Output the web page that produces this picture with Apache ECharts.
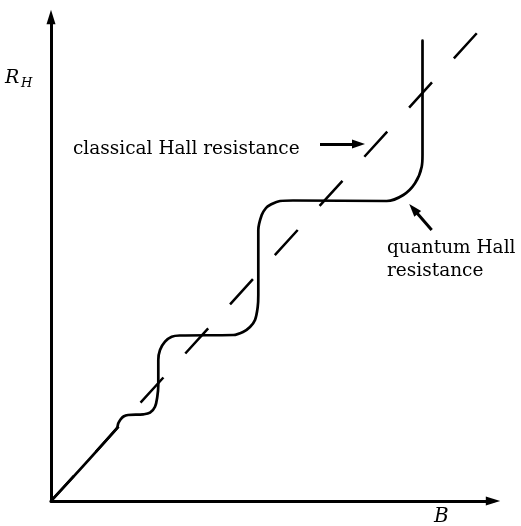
<!DOCTYPE html>
<html>
<head>
<meta charset="utf-8">
<title>Hall resistance</title>
<script src="https://cdn.jsdelivr.net/npm/echarts@6/dist/echarts.min.js"></script>
<style>
  html, body { margin: 0; padding: 0; background: #fff; }
  #chart { width: 521px; height: 526px; }
</style>
</head>
<body>
<div id="chart"></div>
<script>
// Classical Hall resistance: straight line through the origin (B, R_H)
const classicalB = [0, 426];
const classicalR = [0, 468];

// Quantum Hall resistance: plateaus joined by steep rises
const quantumB = [0, 65.7, 67.3, 69.5, 72.5, 77, 92.3, 99, 104, 106.3, 107.3, 107.3, 109, 114, 120.7, 129,
  182.3, 192, 199, 204, 206.7, 207.3, 207.3, 210.7, 215, 219, 229, 242,
  335.7, 352.3, 364, 370.7, 371.5, 371.5];
const quantumR = [0, 72.7, 77.7, 81.5, 84.5, 86, 86.7, 88.3, 94.3, 104.3, 116, 141, 151, 159.3, 164.3, 165.5,
  166, 169, 174, 181, 194, 206, 271, 286, 293, 296, 300, 300.5,
  300, 306, 317.7, 334.3, 346, 460.3];

// Annotation arrows: [startB, startR, endB, endR]
const classicalArrow = [269, 357, 307.5, 357];
const quantumArrow = [380.7, 271, 362.5, 292.1];

const zip = (xs, ys) => xs.map((x, i) => [x, ys[i]]);

const chart = echarts.init(document.getElementById('chart'), null, { renderer: 'canvas' });

const serif = '"DejaVu Serif", "Liberation Serif", serif';
const tri = 'path://M5,0L10,16L0,16Z';

chart.setOption({
  animation: false,
  backgroundColor: '#fff',
  grid: { left: 51, bottom: 25, top: 17, right: 28 },
  xAxis: {
    type: 'value', min: 0, max: 442,
    axisLine: { show: true, onZero: false, lineStyle: { color: '#000', width: 3 },
      symbol: ['none', tri], symbolSize: [9, 15] },
    axisTick: { show: false }, axisLabel: { show: false }, splitLine: { show: false }
  },
  yAxis: {
    type: 'value', min: 0, max: 484,
    axisLine: { show: true, onZero: false, lineStyle: { color: '#000', width: 3 },
      symbol: ['none', tri], symbolSize: [9, 15] },
    axisTick: { show: false }, axisLabel: { show: false }, splitLine: { show: false }
  },
  series: [
    {
      name: 'classical',
      type: 'line',
      data: zip(classicalB, classicalR),
      showSymbol: false,
      lineStyle: { color: '#000', width: 2.5, type: [34, 32.5], cap: 'butt' },
      z: 2
    },
    {
      name: 'quantum',
      type: 'line',
      data: zip(quantumB, quantumR),
      showSymbol: false,
      smooth: 0.35,
      lineStyle: { color: '#000', width: 2.7, cap: 'round', join: 'round' },
      z: 3
    },
    {
      name: 'pointers',
      type: 'lines',
      coordinateSystem: 'cartesian2d',
      symbol: ['none', tri],
      symbolSize: [1, [9, 13]],
      lineStyle: { color: '#000', width: 3, opacity: 1 },
      data: [
        { coords: [[classicalArrow[0], classicalArrow[1]], [classicalArrow[2], classicalArrow[3]]] },
        { coords: [[quantumArrow[0], quantumArrow[1]], [quantumArrow[2], quantumArrow[3]]] }
      ],
      z: 4
    }
  ],
  graphic: [
    { type: 'text', left: 73, top: 140, style: { text: 'classical Hall resistance', font: '18.5px ' + serif, fill: '#000' } },
    { type: 'text', left: 387, top: 239, style: { text: 'quantum Hall', font: '18.5px ' + serif, fill: '#000' } },
    { type: 'text', left: 387, top: 262, style: { text: 'resistance', font: '18.5px ' + serif, fill: '#000' } },
    { type: 'text', left: 5, top: 69, style: { text: 'R', font: 'italic 19px ' + serif, fill: '#000' } },
    { type: 'text', left: 21, top: 77, style: { text: 'H', font: 'italic 13px ' + serif, fill: '#000' } },
    { type: 'text', left: 434, top: 507, style: { text: 'B', font: 'italic 20px ' + serif, fill: '#000' } }
  ]
});
</script>
</body>
</html>
